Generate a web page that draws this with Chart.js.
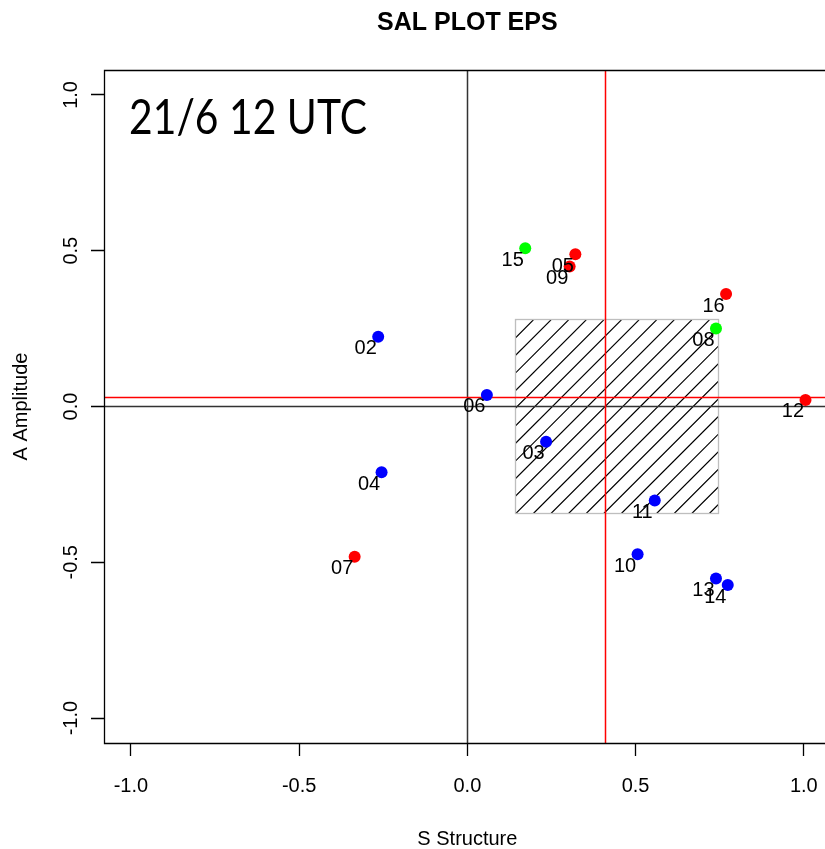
<!DOCTYPE html>
<html lang="en">
<head>
<meta charset="utf-8">
<title>SAL PLOT EPS</title>
<script src="https://cdn.jsdelivr.net/npm/chart.js@4.4.1/dist/chart.umd.min.js"></script>
<style>
    html, body { margin: 0; padding: 0; background: #ffffff; overflow: hidden; }
    canvas { display: block; }
</style>
</head>
<body>
<canvas id="salChart" width="825" height="849"></canvas>
<script>
// ensemble members and their SAL structure / amplitude scores
const members = ["02", "03", "04", "05", "06", "07", "08", "09", "10", "11", "12", "13", "14", "15", "16"];
const structureS = [-0.265, 0.234, -0.255, 0.321, 0.058, -0.335, 0.739, 0.304, 0.506, 0.557, 1.005, 0.739, 0.774, 0.172, 0.769];
const amplitudeA = [0.224, -0.113, -0.211, 0.489, 0.037, -0.482, 0.25, 0.449, -0.474, -0.302, 0.021, -0.552, -0.573, 0.508, 0.361];
const memberColours = ["#0000ff", "#0000ff", "#0000ff", "#ff0000", "#0000ff", "#ff0000", "#00ff00", "#ff0000",
    "#0000ff", "#0000ff", "#ff0000", "#0000ff", "#0000ff", "#00ff00", "#ff0000"];

// medians and interquartile box
const medianS = 0.412;
const medianA = 0.03;
const boxS = [0.143, 0.747];
const boxA = [-0.345, 0.278];

const xTicks = [-1.0, -0.5, 0.0, 0.5, 1.0];
const yTicks = [-1.0, -0.5, 0.0, 0.5, 1.0];

const runLabel = "21/6 12 UTC";
const plotTitle = "SAL PLOT EPS";

const sansFont = "'Liberation Sans', Arial, sans-serif";

const crisp = (v) => Math.floor(v) + 0.5;

function vLine(ctx, x, top, bottom, colour, width) {
    ctx.save();
    ctx.strokeStyle = colour;
    ctx.lineWidth = width;
    ctx.beginPath();
    ctx.moveTo(crisp(x), top);
    ctx.lineTo(crisp(x), bottom);
    ctx.stroke();
    ctx.restore();
}

function hLine(ctx, y, left, right, colour, width) {
    ctx.save();
    ctx.strokeStyle = colour;
    ctx.lineWidth = width;
    ctx.beginPath();
    ctx.moveTo(left, crisp(y));
    ctx.lineTo(right, crisp(y));
    ctx.stroke();
    ctx.restore();
}

const salDecor = {
    id: "salDecor",
    beforeDatasetsDraw(chart) {
        const { ctx, chartArea: area, scales } = chart;
        const xs = scales.x;
        const ys = scales.y;

        // hatched interquartile box
        const bx0 = xs.getPixelForValue(boxS[0]);
        const bx1 = xs.getPixelForValue(boxS[1]);
        const by0 = ys.getPixelForValue(boxA[1]);
        const by1 = ys.getPixelForValue(boxA[0]);

        ctx.save();
        ctx.beginPath();
        ctx.rect(bx0, by0, bx1 - bx0, by1 - by0);
        ctx.clip();
        ctx.strokeStyle = "#000000";
        ctx.lineWidth = 1.2;
        const step = 17.6;
        const start = Math.floor((bx0 + by0) / step) * step + ((853.3 % step) - step);
        ctx.beginPath();
        for (let c = start; c < bx1 + by1 + step; c += step) {
            ctx.moveTo(c - by1, by1);
            ctx.lineTo(c - by0, by0);
        }
        ctx.stroke();
        ctx.restore();

        ctx.save();
        ctx.strokeStyle = "#bebebe";
        ctx.lineWidth = 1.3;
        ctx.strokeRect(crisp(bx0), crisp(by0), Math.round(bx1 - bx0), Math.round(by1 - by0));
        ctx.restore();

        // zero lines
        vLine(ctx, xs.getPixelForValue(0), area.top, area.bottom, "#333333", 1.5);
        hLine(ctx, ys.getPixelForValue(0), area.left, area.right, "#333333", 1.5);

        // median lines
        vLine(ctx, xs.getPixelForValue(medianS), area.top, area.bottom, "#ff0000", 1.5);
        hLine(ctx, ys.getPixelForValue(medianA), area.left, area.right, "#ff0000", 1.5);
    },
    afterDatasetsDraw(chart) {
        const { ctx } = chart;
        const meta = chart.getDatasetMeta(0);

        // member numbers next to each point
        ctx.save();
        ctx.fillStyle = "#000000";
        ctx.font = "20px " + sansFont;
        ctx.textAlign = "center";
        ctx.textBaseline = "middle";
        meta.data.forEach((pt, i) => {
            ctx.fillText(members[i], pt.x - 12.5, pt.y + 12);
        });
        ctx.restore();
    },
    afterDraw(chart) {
        const { ctx, chartArea: area, scales } = chart;
        const xs = scales.x;
        const ys = scales.y;

        ctx.save();
        ctx.strokeStyle = "#000000";
        ctx.lineWidth = 1.3;

        // plot frame (right side runs past the canvas)
        ctx.beginPath();
        ctx.moveTo(area.right + 10, crisp(area.top));
        ctx.lineTo(crisp(area.left), crisp(area.top));
        ctx.lineTo(crisp(area.left), crisp(area.bottom));
        ctx.lineTo(area.right + 10, crisp(area.bottom));
        ctx.stroke();

        // tick marks
        ctx.beginPath();
        xTicks.forEach((v) => {
            const px = crisp(xs.getPixelForValue(v));
            ctx.moveTo(px, area.bottom);
            ctx.lineTo(px, area.bottom + 13);
        });
        yTicks.forEach((v) => {
            const py = crisp(ys.getPixelForValue(v));
            ctx.moveTo(area.left, py);
            ctx.lineTo(area.left - 13, py);
        });
        ctx.stroke();

        // tick labels
        ctx.fillStyle = "#000000";
        ctx.font = "20px " + sansFont;
        ctx.textAlign = "center";
        ctx.textBaseline = "alphabetic";
        xTicks.forEach((v) => {
            ctx.fillText(v.toFixed(1), xs.getPixelForValue(v), 792);
        });
        yTicks.forEach((v) => {
            ctx.save();
            ctx.translate(77, ys.getPixelForValue(v));
            ctx.rotate(-Math.PI / 2);
            ctx.fillText(v.toFixed(1), 0, 0);
            ctx.restore();
        });

        // axis titles
        const midX = (area.left + xs.getPixelForValue(1.08)) / 2;
        ctx.fillText("S Structure", midX, 845);
        ctx.save();
        ctx.translate(27, (area.top + area.bottom) / 2);
        ctx.rotate(-Math.PI / 2);
        ctx.fillText("A Amplitude", 0, 0);
        ctx.restore();

        // main title
        ctx.font = "bold 25px " + sansFont;
        ctx.fillText(plotTitle, midX, 30);

        // run date inside the plot
        ctx.font = "48px Lato, 'Open Sans', sans-serif";
        ctx.textAlign = "left";
        const w = ctx.measureText(runLabel).width;
        ctx.save();
        ctx.translate(129, 134);
        ctx.scale(238 / w, 1);
        ctx.fillText(runLabel, 0, 0);
        ctx.restore();

        ctx.restore();
    }
};

new Chart(document.getElementById("salChart").getContext("2d"), {
    type: "scatter",
    data: {
        datasets: [
            {
                data: structureS.map((s, i) => ({ x: s, y: amplitudeA[i] })),
                pointBackgroundColor: memberColours,
                pointBorderWidth: 0,
                pointRadius: 6,
                pointHoverRadius: 6,
            },
        ],
    },
    options: {
        responsive: false,
        animation: false,
        events: [],
        layout: {
            autoPadding: false,
            padding: { left: 104, top: 70, right: 0, bottom: 106 },
        },
        scales: {
            x: { type: "linear", min: -1.08, max: 1.063, display: false },
            y: { type: "linear", min: -1.08, max: 1.08, display: false },
        },
        plugins: {
            legend: { display: false },
            title: { display: false },
            tooltip: { enabled: false },
        },
    },
    plugins: [salDecor],
});
</script>
</body>
</html>
